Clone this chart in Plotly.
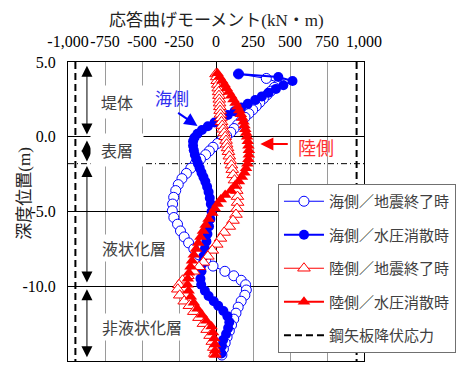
import plotly.graph_objects as go

# Depth (m) and bending moment (kN·m) for each case
SEA_EQ_DEPTH = [4.2, 3.9, 3.6, 3.3, 3.05, 2.8, 2.55, 2.3, 2.05, 1.8, 1.55, 1.3, 1.05, 0.8, 0.55, 0.3,
                0.05, -0.2, -0.45, -0.7, -0.95, -1.2, -1.5, -1.8, -2.1, -2.45, -2.8, -3.2, -3.6, -4.05,
                -4.5, -4.95, -5.4, -5.85, -6.3, -6.7, -7.1, -7.5, -7.9, -8.3, -8.65, -9.0, -9.3, -9.6,
                -9.9, -10.25, -10.6, -11.0, -11.4, -11.8, -12.2, -12.6, -13.0, -13.4, -13.8, -14.2, -14.6]
SEA_EQ_MOMENT = [152, 340, 430, 394, 370, 345, 320, 296, 272, 248, 222, 196, 170, 145, 122, 100,
                 72, 40, 10, -20, -45, -70, -105, -140, -170, -200, -230, -255, -272, -286,
                 -293, -295, -285, -260, -240, -215, -185, -150, -115, -70, -20, 60, 120, 170,
                 200, 205, 195, 170, 150, 135, 120, 105, 90, 75, 62, 50, 40]

SEA_DISS_DEPTH = [4.2, 4.0, 3.73, 3.45, 3.2, 2.95, 2.7, 2.45, 2.2, 1.95, 1.7, 1.45, 1.2, 0.95, 0.7,
                  0.45, 0.2, -0.05, -0.3, -0.6, -0.9, -1.2, -1.5, -1.8, -2.1, -2.4, -2.7, -3.0, -3.35,
                  -3.7, -4.1, -4.5, -5.0, -5.5, -6.0, -6.5, -7.0, -7.5, -8.0, -8.5, -9.0, -9.5, -9.9,
                  -10.3, -10.65, -11.0, -11.3, -11.65, -12.0, -12.4, -12.8, -13.2, -13.6, -14.0, -14.5]
SEA_DISS_MOMENT = [152, 421, 517, 455, 405, 355, 310, 265, 215, 170, 125, 80, 35, -10, -55,
                   -95, -125, -145, -155, -155, -150, -143, -133, -122, -110, -98, -85, -72, -60,
                   -50, -42, -35, -30, -38, -47, -58, -65, -75, -85, -92, -98, -105, -100,
                   -75, -50, -15, 15, 50, 77, 90, 82, 68, 48, 40, 37]

LAND_EQ_DEPTH = [4.2, 4.0, 3.75, 3.5, 3.25, 3.0, 2.75, 2.5, 2.25, 2.0, 1.75, 1.5, 1.25, 1.0, 0.75,
                 0.5, 0.25, 0.0, -0.25, -0.5, -0.75, -1.0, -1.3, -1.6, -1.9, -2.2, -2.55, -2.9, -3.25,
                 -3.6, -4.0, -4.4, -4.8, -5.2, -5.6, -6.0, -6.4, -6.8, -7.2, -7.6, -8.0, -8.4, -8.7,
                 -9.0, -9.3, -9.6, -9.9, -10.2, -10.6, -11.0, -11.3, -11.7, -12.1, -12.5, -12.9,
                 -13.3, -13.7, -14.1, -14.5]
LAND_EQ_MOMENT = [0, 5, 8, 12, 15, 18, 20, 22, 24, 26, 28, 30, 33, 37, 42,
                  48, 55, 62, 68, 72, 78, 84, 90, 96, 104, 110, 116, 125, 133,
                  140, 145, 146, 142, 135, 115, 90, 55, 30, 5, -25, -55, -85, -115,
                  -150, -190, -226, -250, -258, -245, -215, -180, -150, -115, -85, -60,
                  -40, -25, -15, -8]

LAND_DISS_DEPTH = [4.25, 4.0, 3.75, 3.5, 3.25, 3.0, 2.75, 2.5, 2.25, 2.0, 1.75, 1.5, 1.25, 1.0, 0.75,
                   0.5, 0.25, 0.0, -0.3, -0.6, -0.9, -1.2, -1.5, -1.8, -2.1, -2.4, -2.7, -3.0, -3.3,
                   -3.6, -3.9, -4.2, -4.5, -4.8, -5.1, -5.5, -5.9, -6.3, -6.7, -7.1, -7.5, -7.9, -8.3,
                   -8.7, -9.1, -9.5, -9.9, -10.3, -10.7, -11.1, -11.5, -11.9, -12.3, -12.7, -13.1,
                   -13.5, -13.9, -14.3, -14.6]
LAND_DISS_MOMENT = [10, 25, 42, 58, 72, 87, 103, 118, 132, 145, 157, 168, 178, 186, 192,
                    198, 204, 210, 215, 219, 222, 222, 219, 212, 203, 192, 175, 155, 128,
                    100, 62, 32, 10, -8, -25, -50, -70, -88, -105, -120, -135, -150, -162,
                    -172, -182, -190, -192, -185, -170, -150, -125, -95, -65, -30, -20,
                    -12, -8, -6, -5]

YIELD_MOMENT = 950
X_TICKS = [-1000, -750, -500, -250, 0, 250, 500, 750, 1000]
X_TICK_TEXT = ["-1,000", "-750", "-500", "-250", "0", "250", "500", "750", "1,000"]
Y_TICKS = [5, 0, -5, -10, -15]
Y_TICK_TEXT = ["5.0", "0.0", "-5.0", "-10.0", "-15.0"]

BLUE = "#0000ff"
RED = "#ff0000"
SERIF = "Liberation Serif, Noto Sans CJK JP"
SANS = "Noto Sans CJK JP"

fig = go.Figure()

fig.add_trace(go.Scatter(
    x=SEA_EQ_MOMENT, y=SEA_EQ_DEPTH, mode="lines+markers", name="海側／地震終了時",
    legendgroup="a",
    line=dict(color=BLUE, width=1),
    marker=dict(symbol="circle", size=10, color="white", line=dict(color=BLUE, width=1)),
))
fig.add_trace(go.Scatter(
    x=SEA_DISS_MOMENT, y=SEA_DISS_DEPTH, mode="lines+markers", name="海側／水圧消散時",
    legendgroup="b",
    line=dict(color=BLUE, width=2),
    marker=dict(symbol="circle", size=10, color=BLUE),
))
fig.add_trace(go.Scatter(
    x=LAND_EQ_MOMENT, y=LAND_EQ_DEPTH, mode="lines+markers", name="陸側／地震終了時",
    legendgroup="c",
    line=dict(color=RED, width=1),
    marker=dict(symbol="triangle-up", size=11, color="white", line=dict(color=RED, width=1)),
))
fig.add_trace(go.Scatter(
    x=LAND_DISS_MOMENT, y=LAND_DISS_DEPTH, mode="lines+markers", name="陸側／水圧消散時",
    legendgroup="d",
    line=dict(color=RED, width=2),
    marker=dict(symbol="triangle-up", size=11, color=RED),
))
fig.add_trace(go.Scatter(
    x=[-YIELD_MOMENT, -YIELD_MOMENT, None, YIELD_MOMENT, YIELD_MOMENT],
    y=[5, -15, None, 5, -15], mode="lines", name="鋼矢板降伏応力",
    legendgroup="e",
    line=dict(color="black", width=2, dash="7px,4px"),
))

# boundary between surface layer and liquefiable layer
fig.add_shape(type="line", xref="x", yref="y", x0=-1000, x1=1000, y0=-1.8, y1=-1.8,
              line=dict(color="black", width=1, dash="6px,3px,1px,3px"), layer="below")

annotations = []

# layer extent arrows along the left side
for top, bottom in [(4.85, 0.15), (-0.15, -1.65), (-1.85, -9.75), (-10.1, -14.75)]:
    annotations.append(dict(
        x=-872, y=bottom, ax=-872, ay=top, xref="x", yref="y", axref="x", ayref="y",
        text="", showarrow=True, arrowside="end+start", arrowhead=2, startarrowhead=2,
        arrowsize=2.2, startarrowsize=2.2, arrowwidth=1, arrowcolor="black",
        standoff=0, startstandoff=0,
    ))

# layer names
for label, lx, ly in [("堤体", -670, 2.35), ("表層", -670, -0.9),
                      ("液状化層", -556, -7.45), ("非液状化層", -502, -12.75)]:
    annotations.append(dict(
        x=lx, y=ly, xref="x", yref="y", text=label, showarrow=False,
        font=dict(family=SANS, size=16, color="#404040"),
        bgcolor="white", width=50 if len(label) == 2 else None,
        height=30 if len(label) == 2 else None,
    ))

# side labels with pointers
annotations.append(dict(x=-300, y=2.6, xref="x", yref="y", text="海側", showarrow=False,
                        font=dict(family=SANS, size=17, color="#2f2ff0")))
annotations.append(dict(x=-125, y=0.72, ax=-266, ay=1.66, xref="x", yref="y", axref="x", ayref="y",
                        text="", showarrow=True, arrowhead=2, arrowsize=1.3, arrowwidth=2,
                        arrowcolor=BLUE, standoff=0))
annotations.append(dict(x=677, y=-0.69, xref="x", yref="y", text="陸側", showarrow=False,
                        font=dict(family=SANS, size=18, color="#ff3030")))
annotations.append(dict(x=300, y=-0.49, ax=495, ay=-0.49, xref="x", yref="y", axref="x", ayref="y",
                        text="", showarrow=True, arrowhead=2, arrowsize=1.3, arrowwidth=2,
                        arrowcolor=RED, standoff=0))

# axis titles
annotations.append(dict(x=0.5, y=1.14, xref="paper", yref="paper", text="応答曲げモーメント(kN・m)",
                        showarrow=False, yanchor="middle",
                        font=dict(family=SERIF, size=17, color="#222222")))
annotations.append(dict(x=-0.148, y=0.56, xref="paper", yref="paper", text="深度位置(m)",
                        showarrow=False, textangle=-90, xanchor="center", yanchor="middle",
                        font=dict(family=SERIF, size=17, color="#222222")))

fig.update_layout(
    width=459, height=365,
    margin=dict(l=68, r=94, t=62, b=4),
    paper_bgcolor="white", plot_bgcolor="white",
    showlegend=True,
    legend=dict(
        x=0.707, y=0.592, xanchor="left", yanchor="top",
        bgcolor="white", bordercolor="#707070", borderwidth=1,
        font=dict(family=SANS, size=15, color="#404040"),
        tracegroupgap=11, itemwidth=40,
    ),
    annotations=annotations,
    xaxis=dict(
        range=[-1000, 1000], side="top", tickvals=X_TICKS, ticktext=X_TICK_TEXT,
        tickangle=0,
        showgrid=True, gridcolor="#9a9a9a", gridwidth=1,
        zeroline=True, zerolinecolor="black", zerolinewidth=1,
        showline=True, linecolor="black", linewidth=1, mirror=True, ticks="",
        tickfont=dict(family=SERIF, size=16, color="black"), ticklabelstandoff=8,
    ),
    yaxis=dict(
        range=[-15, 5], tickvals=Y_TICKS, ticktext=Y_TICK_TEXT,
        showgrid=True, gridcolor="black", gridwidth=1,
        zeroline=True, zerolinecolor="black", zerolinewidth=1,
        showline=True, linecolor="black", linewidth=1, mirror=True, ticks="",
        tickfont=dict(family=SERIF, size=16, color="black"), ticklabelstandoff=8,
    ),
)

fig.write_html("out.html")
